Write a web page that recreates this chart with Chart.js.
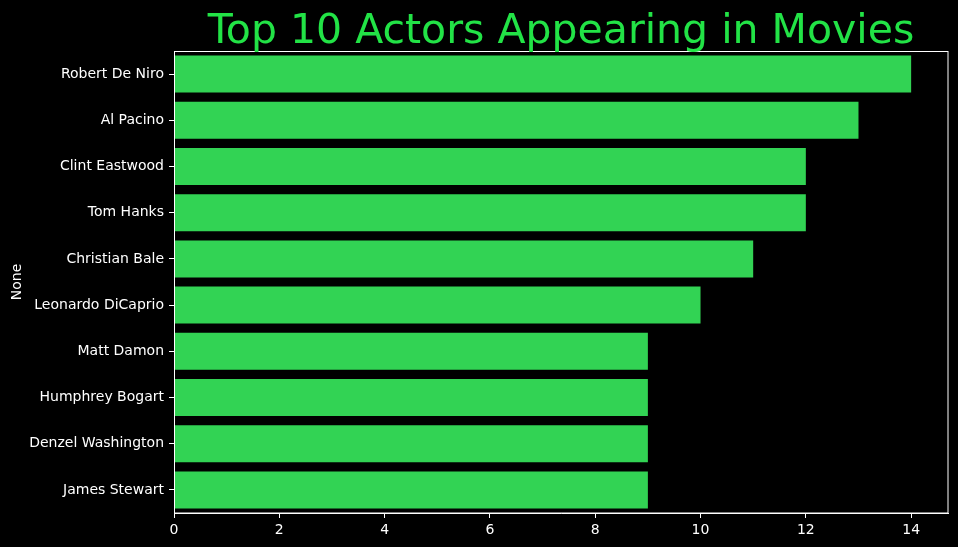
<!DOCTYPE html>
<html>
<head>
<meta charset="utf-8">
<script src="https://cdn.jsdelivr.net/npm/chart.js@4/dist/chart.umd.min.js"></script>
<style>
html,body{margin:0;padding:0;background:#000;}
#c{display:block;}
</style>
</head>
<body>
<canvas id="c" width="958" height="547"></canvas>
<script>
const titleText = 'Top 10 Actors Appearing in Movies';
const actors = ['Robert De Niro','Al Pacino','Clint Eastwood','Tom Hanks','Christian Bale','Leonardo DiCaprio','Matt Damon','Humphrey Bogart','Denzel Washington','James Stewart'];
const movieCounts = [14,13,12,12,11,10,9,9,9,9];
const xTicks = [0,2,4,6,8,10,12,14];
const yAxisLabel = 'None';

const FONT = "'DejaVu Sans', sans-serif";

const bgAndFrame = {
  id: 'bgAndFrame',
  beforeDraw(chart) {
    const ctx = chart.ctx;
    ctx.save();
    ctx.fillStyle = '#000';
    ctx.fillRect(0, 0, chart.width, chart.height);
    ctx.restore();
  },
  afterDraw(chart) {
    const {ctx, chartArea: a} = chart;
    ctx.save();
    ctx.strokeStyle = '#ffffff';
    ctx.lineWidth = 1;
    ctx.strokeRect(Math.round(a.left) + 0.5, Math.round(a.top) + 0.5, Math.round(a.right - a.left) - 0.5, Math.round(a.bottom - a.top) - 0.5);
    ctx.fillStyle = '#22e346';
    ctx.font = '41px ' + FONT;
    ctx.textAlign = 'center';
    ctx.textBaseline = 'alphabetic';
    ctx.fillText(titleText, (a.left + a.right) / 2, 43);
    ctx.restore();
  }
};

new Chart(document.getElementById('c'), {
  type: 'bar',
  data: {
    labels: actors,
    datasets: [{
      data: movieCounts,
      backgroundColor: '#32d354',
      borderWidth: 0,
      barPercentage: 0.8,
      categoryPercentage: 1.0
    }]
  },
  options: {
    indexAxis: 'y',
    responsive: false,
    animation: false,
    layout: { padding: { top: 51, right: 10, left: 0, bottom: 0 } },
    plugins: { legend: { display: false }, tooltip: { enabled: false }, title: { display: false } },
    scales: {
      x: {
        type: 'linear',
        min: 0,
        max: 14.7,
        afterBuildTicks(scale) { scale.ticks = xTicks.map(v => ({ value: v })); },
        afterFit(scale) { scale.height = 34; },
        grid: { display: true, drawOnChartArea: false, drawTicks: true, tickLength: 5, tickColor: '#ffffff', tickWidth: 1 },
        border: { display: true, color: '#ffffff', width: 1 },
        ticks: { color: '#ffffff', font: { family: FONT, size: 14 }, padding: 4, maxRotation: 0, autoSkip: false }
      },
      y: {
        type: 'category',
        offset: true,
        afterFit(scale) { scale.width = 174; },
        grid: { display: true, drawOnChartArea: false, drawTicks: true, tickLength: 5, tickColor: '#ffffff', tickWidth: 1, offset: false },
        border: { display: true, color: '#ffffff', width: 1 },
        ticks: { color: '#ffffff', font: { family: FONT, size: 14 }, padding: 5, autoSkip: false },
        title: { display: true, text: yAxisLabel, color: '#ffffff', font: { family: FONT, size: 14 }, padding: { top: 9, bottom: 0 } }
      }
    }
  },
  plugins: [bgAndFrame]
});
</script>
</body>
</html>
